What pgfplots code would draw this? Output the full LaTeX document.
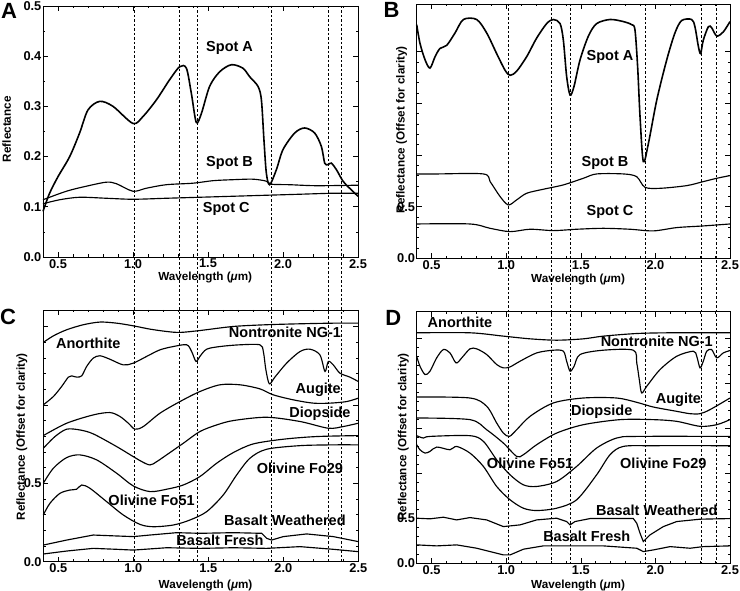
\documentclass[border=0pt]{standalone}
\usepackage{fontspec}
\setmainfont{Liberation Sans}
\usepackage{pgfplots}
\pgfplotsset{compat=1.18}
\newcommand{\tickfont}{\fontsize{12.8}{14}\selectfont\bfseries}
\newcommand{\labfont}{\fontsize{11.7}{13}\selectfont\bfseries}
\newcommand{\curvefont}{\fontsize{14.5}{16}\selectfont\bfseries}
\newcommand{\panelfont}{\fontsize{22}{24}\selectfont\bfseries}
\pgfplotsset{
 myaxis/.style={
  scale only axis, anchor=south west, clip=false,
  xmin=0.4, xmax=2.5,
  xtick={0.5,1,1.5,2,2.5}, xticklabels={0.5,1.0,1.5,2.0,2.5},
  minor x tick num=4,
  tick align=inside,
  major tick length=5pt, minor tick length=2.5pt,
  tick style={black, line width=0.6pt},
  axis line style={line width=0.9pt},
  ticklabel style={font=\tickfont},
  xticklabel style={inner sep=2pt},
  yticklabel style={inner sep=1.5pt},
  /pgf/number format/assume math mode=true,
  xlabel={Wavelength ({\itshape μ}m)},
  label style={font=\labfont},
  xlabel style={at={(axis description cs:0.515,-0.083)}, anchor=center},
 },
 crv/.style={black, line width=1.15pt, mark=none},
 crvA/.style={black, line width=1.6pt, mark=none},
 dsh/.style={black, line width=0.5pt, dash pattern=on 2.5pt off 2pt, mark=none},
}
\begin{document}
\begin{tikzpicture}[x=1pt,y=1pt]
\useasboundingbox (0,0) rectangle (740,591);
% ---------------- Panel A ----------------
\begin{axis}[myaxis, at={(43pt,334pt)}, width=315pt, height=251pt,
  ymin=0, ymax=0.5, ytick={0,0.1,0.2,0.3,0.4,0.5},
  yticklabels={0.0,0.1,0.2,0.3,0.4,0.5}, minor y tick num=1,
  ylabel={Reflectance},
  ylabel style={at={(axis description cs:-0.115,0.509)}, anchor=center}]
\addplot[dsh] coordinates {(1.01,0.5) (1.01,-0.607)};
\addplot[dsh] coordinates {(1.307,0.5) (1.307,-0.607)};
\addplot[dsh] coordinates {(1.431,0.5) (1.431,-0.607)};
\addplot[dsh] coordinates {(1.92,0.5) (1.92,-0.607)};
\addplot[dsh] coordinates {(2.302,0.5) (2.302,-0.607)};
\addplot[dsh] coordinates {(2.385,0.5) (2.385,-0.607)};
\addplot[crvA, smooth] coordinates {(0.4,0.091) (0.444,0.127) (0.5,0.16) (0.578,0.2) (0.644,0.247) (0.7,0.293) (0.778,0.31) (0.867,0.3) (1.0,0.266) (1.067,0.28) (1.156,0.313) (1.244,0.353) (1.311,0.379) (1.356,0.376) (1.389,0.326) (1.422,0.268) (1.456,0.286) (1.511,0.34) (1.578,0.369) (1.656,0.383) (1.733,0.376) (1.778,0.359) (1.833,0.34) (1.856,0.313) (1.873,0.233) (1.889,0.167) (1.911,0.144) (1.956,0.174) (2.0,0.214) (2.078,0.247) (2.144,0.257) (2.211,0.247) (2.256,0.22) (2.278,0.187) (2.3,0.184) (2.322,0.187) (2.356,0.174) (2.4,0.151) (2.444,0.137) (2.5,0.121)};
\addplot[crv, smooth] coordinates {(0.4,0.114) (0.556,0.131) (0.689,0.141) (0.822,0.149) (0.889,0.146) (1.0,0.131) (1.089,0.137) (1.222,0.144) (1.4,0.147) (1.533,0.152) (1.667,0.154) (1.8,0.155) (1.889,0.151) (1.922,0.145) (2.044,0.144) (2.222,0.142) (2.5,0.143)};
\addplot[crv, smooth] coordinates {(0.4,0.106) (0.511,0.114) (0.644,0.119) (0.822,0.117) (1.0,0.115) (1.222,0.117) (1.444,0.119) (1.667,0.121) (1.889,0.123) (2.111,0.125) (2.333,0.127) (2.5,0.127)};
\node[font=\curvefont] at (axis cs:1.644,0.416) {Spot A};
\node[font=\curvefont] at (axis cs:1.644,0.187) {Spot B};
\node[font=\curvefont] at (axis cs:1.622,0.095) {Spot C};
\node[font=\panelfont] at (rel axis cs:-0.108,0.98) {A};
\end{axis}
% ---------------- Panel B ----------------
\begin{axis}[myaxis, at={(416.7pt,332.7pt)}, width=313.3pt, height=254.3pt,
  ymin=0, ymax=2.46, ytick={0,0.5,1,1.5,2},
  yticklabels={0.0,0.5}, minor y tick num=4,
  ylabel={Reflectance (Offset for clarity)},
  ylabel style={at={(axis description cs:-0.048,0.505)}, anchor=center}]
\addplot[dsh] coordinates {(1.014,2.46) (1.014,-2.95)};
\addplot[dsh] coordinates {(1.305,2.46) (1.305,-2.95)};
\addplot[dsh] coordinates {(1.432,2.46) (1.432,-2.95)};
\addplot[dsh] coordinates {(1.93,2.46) (1.93,-2.95)};
\addplot[dsh] coordinates {(2.306,2.46) (2.306,-2.95)};
\addplot[dsh] coordinates {(2.411,2.46) (2.411,-2.95)};
\addplot[crvA, smooth] coordinates {(0.4,2.26) (0.422,2.08) (0.456,1.92) (0.489,1.84) (0.523,1.95) (0.556,2.03) (0.601,2.06) (0.657,2.18) (0.713,2.31) (0.802,2.31) (0.869,2.18) (0.936,1.98) (0.992,1.82) (1.026,1.77) (1.07,1.81) (1.137,1.95) (1.204,2.13) (1.271,2.27) (1.316,2.31) (1.361,2.27) (1.383,2.11) (1.405,1.76) (1.428,1.58) (1.454,1.66) (1.495,1.92) (1.551,2.15) (1.606,2.27) (1.696,2.31) (1.785,2.29) (1.841,2.26) (1.863,2.21) (1.881,1.85) (1.897,1.37) (1.919,0.935) (1.953,1.11) (2.009,1.53) (2.076,1.92) (2.131,2.18) (2.176,2.30) (2.243,2.31) (2.265,2.24) (2.288,2.05) (2.303,1.98) (2.321,2.11) (2.355,2.24) (2.377,2.23) (2.411,2.15) (2.455,2.19) (2.5,2.29)};
\addplot[crv, smooth] coordinates {(0.4,0.816) (0.534,0.816) (0.847,0.816) (0.892,0.742) (0.959,0.597) (1.014,0.516) (1.07,0.565) (1.137,0.629) (1.249,0.668) (1.383,0.71) (1.517,0.774) (1.606,0.816) (1.785,0.816) (1.874,0.79) (1.93,0.687) (2.031,0.677) (2.21,0.703) (2.321,0.742) (2.411,0.774) (2.5,0.8)};
\addplot[crv, smooth] coordinates {(0.4,0.332) (0.757,0.332) (0.892,0.29) (1.026,0.258) (1.16,0.281) (1.316,0.268) (1.472,0.281) (1.651,0.29) (1.83,0.281) (1.986,0.265) (2.143,0.297) (2.321,0.313) (2.5,0.332)};
\node[font=\curvefont] at (axis cs:1.696,1.95) {Spot A};
\node[font=\curvefont] at (axis cs:1.662,0.92) {Spot B};
\node[font=\curvefont] at (axis cs:1.696,0.45) {Spot C};
\node[font=\panelfont] at (rel axis cs:-0.08,0.976) {B};
\end{axis}
% ---------------- Panel C ----------------
\begin{axis}[myaxis, at={(43.3pt,29.3pt)}, width=315pt, height=251.7pt,
  ymin=0, ymax=1.605, ytick={0,0.5,1,1.5},
  yticklabels={0.0,0.5}, minor y tick num=4,
  ylabel={Reflectance (Offset for clarity)},
  xlabel style={at={(axis description cs:0.515,-0.094)}, anchor=center},
  ylabel style={at={(axis description cs:-0.068,0.496)}, anchor=center}]
\addplot[crv, smooth] coordinates {(0.4,1.398) (0.467,1.44) (0.556,1.479) (0.667,1.511) (0.778,1.528) (0.889,1.521) (1.0,1.504) (1.111,1.483) (1.222,1.468) (1.311,1.462) (1.444,1.474) (1.667,1.5) (1.889,1.511) (2.111,1.517) (2.333,1.521) (2.5,1.521)};
\addplot[crv, smooth] coordinates {(0.4,1.0) (0.467,1.053) (0.522,1.117) (0.567,1.177) (0.589,1.185) (0.622,1.177) (0.656,1.185) (0.689,1.245) (0.733,1.298) (0.778,1.313) (0.844,1.291) (0.933,1.255) (1.0,1.266) (1.089,1.309) (1.178,1.351) (1.267,1.372) (1.356,1.383) (1.389,1.34) (1.418,1.277) (1.444,1.309) (1.489,1.355) (1.578,1.372) (1.711,1.383) (1.844,1.383) (1.867,1.34) (1.884,1.223) (1.907,1.134) (1.944,1.177) (2.022,1.266) (2.111,1.34) (2.178,1.355) (2.244,1.319) (2.278,1.213) (2.3,1.277) (2.333,1.255) (2.378,1.202) (2.444,1.177) (2.5,1.149)};
\addplot[crv, smooth] coordinates {(0.4,0.804) (0.556,0.883) (0.733,0.936) (0.844,0.951) (0.911,0.926) (0.967,0.883) (1.011,0.845) (1.067,0.862) (1.178,0.947) (1.311,1.021) (1.444,1.085) (1.578,1.128) (1.711,1.128) (1.844,1.102) (1.933,1.064) (2.067,1.032) (2.2,1.011) (2.311,1.011) (2.422,1.021) (2.5,1.043)};
\addplot[crv, smooth] coordinates {(0.4,0.723) (0.478,0.798) (0.556,0.845) (0.644,0.84) (0.733,0.815) (0.889,0.734) (1.044,0.645) (1.111,0.617) (1.156,0.638) (1.222,0.681) (1.333,0.755) (1.444,0.83) (1.556,0.872) (1.667,0.9) (1.889,0.921) (2.111,0.894) (2.3,0.851) (2.4,0.862) (2.5,0.883)};
\addplot[crv, smooth] coordinates {(0.4,0.5) (0.467,0.596) (0.556,0.664) (0.644,0.681) (0.756,0.649) (0.889,0.564) (1.0,0.483) (1.111,0.447) (1.222,0.462) (1.333,0.489) (1.444,0.543) (1.556,0.628) (1.667,0.696) (1.8,0.751) (2.0,0.781) (2.222,0.798) (2.5,0.804)};
\addplot[crv, smooth] coordinates {(0.4,0.298) (0.444,0.372) (0.511,0.436) (0.578,0.457) (0.622,0.462) (0.656,0.489) (0.711,0.468) (0.822,0.383) (0.933,0.298) (1.044,0.238) (1.133,0.223) (1.267,0.234) (1.378,0.266) (1.489,0.319) (1.6,0.426) (1.689,0.553) (1.778,0.66) (1.889,0.717) (2.111,0.74) (2.333,0.745) (2.5,0.745)};
\addplot[crv] coordinates {(0.4,0.106) (0.556,0.138) (0.733,0.17) (0.889,0.164) (1.0,0.16) (1.111,0.17) (1.289,0.185) (1.444,0.181) (1.667,0.185) (1.856,0.181) (1.889,0.149) (1.922,0.138) (2.0,0.16) (2.156,0.177) (2.333,0.16) (2.5,0.128)};
\addplot[crv] coordinates {(0.4,0.049) (0.556,0.068) (0.733,0.085) (0.889,0.079) (1.0,0.074) (1.222,0.089) (1.444,0.085) (1.667,0.089) (1.889,0.085) (2.111,0.096) (2.333,0.079) (2.5,0.064)};
\node[font=\curvefont] at (axis cs:0.70,1.394) {Anorthite};
\node[font=\curvefont] at (axis cs:2.011,1.462) {Nontronite NG-1};
\node[font=\curvefont] at (axis cs:2.233,1.096) {Augite};
\node[font=\curvefont] at (axis cs:2.244,0.943) {Diopside};
\node[font=\curvefont] at (axis cs:2.111,0.596) {Olivine Fo29};
\node[font=\curvefont] at (axis cs:1.122,0.389) {Olivine Fo51};
\node[font=\curvefont] at (axis cs:2.011,0.266) {Basalt Weathered};
\node[font=\curvefont] at (axis cs:1.578,0.138) {Basalt Fresh};
\node[font=\panelfont] at (rel axis cs:-0.112,0.973) {C};
\end{axis}
% ---------------- Panel D ----------------
\begin{axis}[myaxis, at={(416.7pt,27.7pt)}, width=313.3pt, height=251.6pt,
  ymin=0, ymax=2.79, ytick={0,0.5,1,1.5,2,2.5},
  yticklabels={0.0,0.5}, minor y tick num=4,
  ylabel={Reflectance (Offset for clarity)},
  xlabel style={at={(axis description cs:0.515,-0.088)}, anchor=center},
  ylabel style={at={(axis description cs:-0.043,0.502)}, anchor=center}]
\addplot[crv, smooth] coordinates {(0.4,2.556) (0.757,2.556) (0.981,2.519) (1.16,2.489) (1.338,2.474) (1.517,2.489) (1.651,2.519) (1.875,2.548) (2.098,2.556) (2.5,2.556)};
\addplot[crv, smooth] coordinates {(0.4,2.296) (0.422,2.185) (0.456,2.093) (0.489,2.13) (0.534,2.278) (0.579,2.37) (0.623,2.333) (0.664,2.222) (0.702,2.278) (0.757,2.378) (0.802,2.378) (0.869,2.315) (0.936,2.204) (0.981,2.167) (1.026,2.178) (1.093,2.241) (1.204,2.333) (1.316,2.363) (1.383,2.352) (1.405,2.241) (1.428,2.13) (1.455,2.185) (1.495,2.315) (1.651,2.363) (1.852,2.363) (1.875,2.222) (1.892,2.037) (1.908,1.889) (1.942,1.963) (2.031,2.148) (2.143,2.296) (2.254,2.352) (2.277,2.296) (2.299,2.167) (2.321,2.241) (2.344,2.352) (2.377,2.37) (2.411,2.278) (2.455,2.333) (2.5,2.359)};
\addplot[crv, smooth] coordinates {(0.4,1.844) (0.757,1.833) (0.869,1.741) (0.936,1.556) (0.981,1.444) (1.021,1.407) (1.07,1.481) (1.16,1.63) (1.316,1.778) (1.517,1.833) (1.74,1.833) (1.875,1.785) (1.986,1.733) (2.143,1.685) (2.232,1.659) (2.299,1.659) (2.366,1.704) (2.5,1.833)};
\addplot[crv, smooth] coordinates {(0.4,1.611) (0.757,1.593) (0.869,1.481) (0.981,1.333) (1.07,1.185) (1.115,1.204) (1.204,1.315) (1.338,1.444) (1.517,1.537) (1.763,1.593) (1.986,1.593) (2.143,1.574) (2.299,1.519) (2.411,1.537) (2.5,1.593)};
\addplot[crv, smooth] coordinates {(0.4,1.415) (0.445,1.389) (0.489,1.407) (0.757,1.415) (0.847,1.352) (0.936,1.148) (1.026,0.981) (1.115,0.87) (1.204,0.852) (1.338,0.907) (1.472,1.074) (1.606,1.278) (1.74,1.389) (1.875,1.407) (2.5,1.407)};
\addplot[crv, smooth] coordinates {(0.4,1.315) (0.422,1.259) (0.456,1.222) (0.489,1.241) (0.534,1.289) (0.623,1.259) (0.668,1.296) (0.757,1.222) (0.847,1.074) (0.936,0.852) (1.026,0.704) (1.115,0.611) (1.204,0.585) (1.338,0.611) (1.472,0.704) (1.606,0.981) (1.696,1.204) (1.785,1.296) (1.986,1.304) (2.5,1.304)};
\addplot[crv] coordinates {(0.4,0.5) (0.489,0.493) (0.579,0.511) (0.668,0.481) (0.757,0.507) (0.869,0.481) (0.981,0.407) (1.093,0.426) (1.204,0.481) (1.338,0.5) (1.405,0.463) (1.428,0.426) (1.461,0.463) (1.562,0.496) (1.852,0.496) (1.875,0.444) (1.897,0.333) (1.919,0.241) (1.964,0.315) (2.053,0.407) (2.143,0.463) (2.299,0.489) (2.5,0.496)};
\addplot[crv] coordinates {(0.4,0.204) (0.534,0.193) (0.668,0.204) (0.802,0.167) (0.892,0.13) (0.981,0.093) (1.026,0.093) (1.115,0.156) (1.249,0.193) (1.428,0.193) (1.651,0.193) (1.875,0.167) (1.919,0.13) (1.986,0.148) (2.098,0.185) (2.232,0.167) (2.321,0.185) (2.5,0.193)};
\node[font=\curvefont] at (axis cs:0.69,2.667) {Anorthite};
\node[font=\curvefont] at (axis cs:2.009,2.463) {Nontronite NG-1};
\node[font=\curvefont] at (axis cs:2.154,1.815) {Augite};
\node[font=\curvefont] at (axis cs:1.64,1.685) {Diopside};
\node[font=\curvefont] at (axis cs:1.16,1.104) {Olivine Fo51};
\node[font=\curvefont] at (axis cs:2.053,1.104) {Olivine Fo29};
\node[font=\curvefont] at (axis cs:2.009,0.593) {Basalt Weathered};
\node[font=\curvefont] at (axis cs:1.54,0.296) {Basalt Fresh};
\node[font=\panelfont] at (rel axis cs:-0.075,0.975) {D};
\end{axis}
\end{tikzpicture}
\end{document}
